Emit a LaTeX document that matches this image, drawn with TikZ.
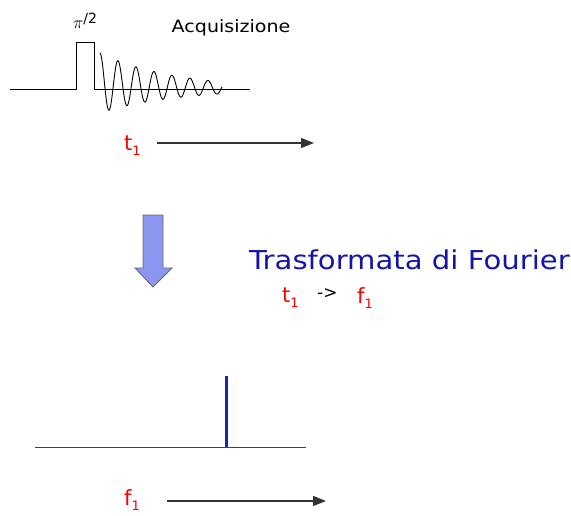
\documentclass[tikz,border=0pt]{standalone}
\usepackage{fontspec}
\setmainfont{DejaVu Sans}
\newfontfamily\widefont[FakeStretch=1.12]{DejaVu Sans}
\usetikzlibrary{arrows.meta}
\definecolor{ftblue}{RGB}{20,20,170}
\definecolor{spblue}{RGB}{20,40,180}
\definecolor{barrow}{RGB}{140,150,240}
\newcommand{\subone}{\raisebox{-5pt}{\fontsize{13}{14}\selectfont 1}}
\tikzset{
  axisarrow/.style={draw=black!80, line width=1.3pt, -{Triangle[length=13pt,width=10pt]}},
  redlab/.style={text=red, font=\fontsize{21}{22}\selectfont, inner sep=0pt},
  seqline/.style={draw=black, line width=0.9pt},
}
\begin{document}
\begin{tikzpicture}[x=1pt,y=-1pt]
\useasboundingbox (0,0) rectangle (571,515);
% pulse sequence
\coordinate (b0) at (10,89);
\coordinate (b1) at (250,89);
\draw[seqline] (b0) -- (76,89) -- (76,42) -- (94,42) -- (94,89) -- (b1);
\draw[seqline, smooth, samples=160, domain=100:222]
  plot (\x, {89 - exp(-(\x-100)/75)*(6 + 30*cos(20*(\x-100)))});
\node[inner sep=0pt, font=\fontsize{17}{18}\selectfont] (pi) at (85,21) {$\pi$\raisebox{5pt}{\fontsize{14}{15}\selectfont/2}};
\node[inner sep=0pt, font=\widefont\fontsize{17}{18}\selectfont] (acq) at (231,28) {Acquisizione};
% t1 axis
\node[redlab, anchor=west] (t1) at (124,146) {t\subone};
\coordinate (ta) at (157,143);
\coordinate (tb) at (314,143);
\draw[axisarrow] (ta) -- (tb);
% block arrow
\draw[fill=barrow, draw=black!60, line width=0.8pt]
  (143,215) -- (163,215) -- (163,268) -- (172,268) -- (153,287) -- (135,268) -- (143,268) -- cycle;
% Fourier text
\node[inner sep=0pt, text=ftblue, font=\widefont\fontsize{26}{27}\selectfont, anchor=west] (ft) at (249,260) {Trasformata di Fourier};
\node[redlab, anchor=west] (t1b) at (282,298) {t\subone};
\node[inner sep=0pt, font=\fontsize{17}{18}\selectfont, anchor=west] (arr) at (317,294) {->};
\node[redlab, anchor=west] (f1b) at (357,298) {f\subone};
% spectrum
\coordinate (s0) at (35,447);
\coordinate (s1) at (306,447);
\draw[draw=black!75, line width=0.9pt] (s0) -- (s1);
\coordinate (p0) at (226,447);
\coordinate (p1) at (226,376);
\draw[draw=spblue, line width=3pt] (p0) -- (p1);
% f1 axis
\node[redlab, anchor=west] (f1) at (124,500) {f\subone};
\coordinate (fa) at (167,501);
\coordinate (fb) at (326,501);
\draw[axisarrow] (fa) -- (fb);
\end{tikzpicture}
\end{document}
